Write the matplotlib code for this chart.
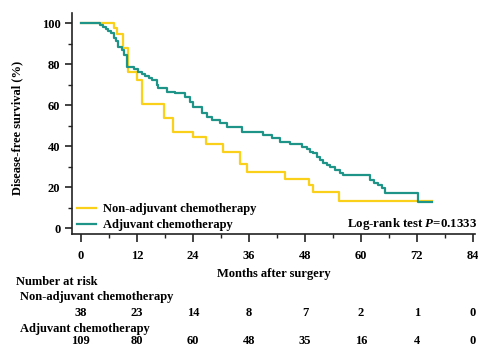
import matplotlib
matplotlib.use("Agg")
import matplotlib.pyplot as plt
from matplotlib.ticker import MultipleLocator
from matplotlib.lines import Line2D

plt.rcParams['font.family'] = ['Liberation Serif', 'DejaVu Serif']
plt.rcParams['font.weight'] = 'bold'
plt.rcParams['mathtext.fontset'] = 'custom'
plt.rcParams['mathtext.it'] = 'Liberation Serif:italic:bold'
plt.rcParams['mathtext.rm'] = 'Liberation Serif:bold'

# ---------------- Dados ----------------
t_non = [0, 7.0, 7.7, 9.0, 10.1, 12.0, 13.0, 17.9, 19.8, 24.0, 26.8, 30.4,
         34.1, 35.5, 43.7, 48.8, 49.7, 55.3, 75.2]
s_non = [100, 97.4, 94.7, 87.6, 76.3, 72.0, 60.5, 53.5, 47.0, 44.5, 41.0, 37.2,
         31.2, 27.5, 23.9, 21.0, 17.7, 13.3, 13.3]

t_adj = [0, 4.1, 4.85, 5.35, 5.9, 6.5, 7.0, 7.5, 7.9, 8.8, 9.3, 9.85, 11.3,
         12.3, 13.1, 13.8, 14.5, 15.3, 16.3, 16.6, 18.4, 20.2, 22.3, 23.4,
         24.1, 25.9, 27.0, 28.1, 29.8, 31.3, 34.5, 39.1, 40.9, 42.7, 44.8,
         47.3, 48.4, 49.1, 49.8, 50.5, 51.2, 51.9, 52.7, 53.4, 54.5, 55.5,
         56.2, 61.9, 62.7, 63.7, 64.5, 65.2, 72.3, 75.2]
s_adj = [100, 99.1, 98.2, 97.2, 96.3, 95.0, 92.8, 91.2, 88.5, 86.8, 84.4, 78.7,
         77.4, 76.3, 75.2, 74.3, 73.0, 72.2, 69.8, 68.1, 66.5, 65.7, 64.1, 61.6,
         59.2, 55.9, 54.3, 52.7, 51.1, 49.4, 47.0, 45.4, 43.8, 42.1, 41.0,
         39.7, 38.4, 37.2, 36.4, 34.8, 33.2, 31.9, 30.7, 29.9, 28.3, 27.0,
         25.9, 23.4, 21.8, 21.0, 19.4, 17.2, 12.8, 12.8]

risk_times = [0, 12, 24, 36, 48, 60, 72, 84]
risk_non = [38, 23, 14, 8, 7, 2, 1, 0]
risk_adj = [109, 80, 60, 48, 35, 16, 4, 0]

COR_NON = '#FAD01A'
COR_ADJ = '#1E9488'
FS = 9

# ---------------- Figura ----------------
fig = plt.figure(figsize=(4.78, 3.48), dpi=100)
ax = fig.add_axes([0.1506, 0.3271, 0.8437, 0.6362])

ax.step(t_non, s_non, where='post', color=COR_NON, linewidth=1.6)
ax.step(t_adj, s_adj, where='post', color=COR_ADJ, linewidth=1.6)

ax.set_xlim(-1.9, 84.5)
ax.set_ylim(-3, 105)
ax.set_xticks(risk_times)
ax.set_yticks([0, 20, 40, 60, 80, 100])
ax.xaxis.set_minor_locator(MultipleLocator(6))
ax.yaxis.set_minor_locator(MultipleLocator(10))

for s in ['top', 'right']:
    ax.spines[s].set_visible(False)
for s in ['left', 'bottom']:
    ax.spines[s].set_linewidth(1.2)
    ax.spines[s].set_color('#222222')

ax.tick_params(axis='x', which='major', length=5.5, width=1.2, pad=6,
               labelsize=FS, color='#222222')
ax.tick_params(axis='y', which='major', length=5, width=1.2, pad=3.4,
               labelsize=FS, color='#222222')
ax.tick_params(which='minor', length=3, width=1.0, color='#222222')
for lab in ax.get_xticklabels() + ax.get_yticklabels():
    lab.set_fontweight('bold')

ax.set_ylabel("Disease-free survival (%)", fontsize=9, fontweight='bold')
ax.yaxis.set_label_coords(-0.12, 0.48)
ax.set_xlabel("Months after surgery", fontsize=FS, fontweight='bold',
              labelpad=4)

handles = [Line2D([], [], color=COR_NON, linewidth=1.6),
           Line2D([], [], color=COR_ADJ, linewidth=1.6)]
ax.legend(handles, ["Non-adjuvant chemotherapy", "Adjuvant chemotherapy"],
          loc='lower left', bbox_to_anchor=(-0.005, -0.02), frameon=False,
          prop={'size': FS, 'weight': 'bold'}, handlelength=1.5,
          handletextpad=0.55, labelspacing=0.3, borderaxespad=0.2)

fig.text(0.998, 1 - 224 / 348, "Log-rank test $P$=0.1333",
         ha='right', va='center', fontsize=9.3, fontweight='bold')

# ---------------- Número em risco ----------------
trans = ax.get_xaxis_transform()
fig.text(16 / 478, 1 - 282 / 348, "Number at risk", ha='left', va='center',
         fontsize=FS, fontweight='bold')
fig.text(20 / 478, 1 - 297 / 348, "Non-adjuvant chemotherapy", ha='left',
         va='center', fontsize=FS, fontweight='bold')
fig.text(20 / 478, 1 - 329 / 348, "Adjuvant chemotherapy", ha='left',
         va='center', fontsize=FS, fontweight='bold')

y_non = (234.15 - 313) / (234.15 - 12.75)
y_adj = (234.15 - 341) / (234.15 - 12.75)
for t, n1, n2 in zip(risk_times, risk_non, risk_adj):
    ax.text(t, y_non, str(n1), transform=trans, ha='center', va='center',
            fontsize=FS, fontweight='bold', clip_on=False)
    ax.text(t, y_adj, str(n2), transform=trans, ha='center', va='center',
            fontsize=FS, fontweight='bold', clip_on=False)

fig.savefig("out.png", dpi=100)
